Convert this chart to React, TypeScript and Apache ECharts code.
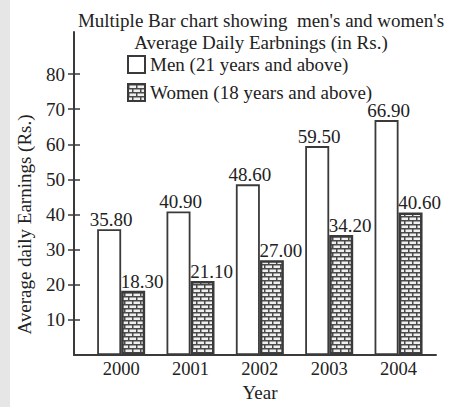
import React, { useEffect, useRef } from "react";
import * as echarts from "echarts";

const categories = ["2000", "2001", "2002", "2003", "2004"];
const menValues = [35.8, 40.9, 48.6, 59.5, 66.9];
const womenValues = [18.3, 21.1, 27.0, 34.2, 40.6];
const yTickValues = [10, 20, 30, 40, 50, 60, 70, 80];
const seriesNames = ["Men (21 years and above)", "Women (18 years and above)"];
const titleLines = ["Multiple Bar chart showing  men's and women's", "Average Daily Earbnings (in Rs.)"];

const FONT = "Liberation Serif";
const INK = "#222";
const LINE = "#3a3a3a";

function makeBrick(): string {
  const c = document.createElement("canvas");
  c.width = 8;
  c.height = 8;
  const ctx = c.getContext("2d")!;
  ctx.fillStyle = "#f0f0f0";
  ctx.fillRect(0, 0, 8, 8);
  ctx.fillStyle = "#4a4a4a";
  ctx.fillRect(0, 0, 8, 1.5);
  ctx.fillRect(0, 4, 8, 1.5);
  ctx.fillRect(0, 0, 1.5, 4);
  ctx.fillRect(4, 4, 1.5, 4);
  return c.toDataURL();
}

export default function App() {
  const ref = useRef<HTMLDivElement>(null);
  useEffect(() => {
    if (!ref.current) return;
    const chart = echarts.init(ref.current, undefined, { renderer: "svg" });
    const brick = { image: makeBrick(), repeat: "repeat", imageWidth: 8, imageHeight: 8 };
    const txt = { fontFamily: FONT, fontSize: 19, color: INK };
    const fmt = (p: any) => Number(p.value[1]).toFixed(2);
    chart.setOption({
      animation: false,
      backgroundColor: "transparent",
      textStyle: { fontFamily: FONT, fontSize: 19, color: INK },
      title: {
        text: titleLines.join("\n"),
        left: 256,
        top: 4,
        textAlign: "center",
        textStyle: { ...txt, fontWeight: "normal", lineHeight: 22 },
      },
      legend: {
        orient: "vertical",
        left: 127,
        top: 55,
        padding: 0,
        itemWidth: 17,
        itemHeight: 17,
        itemGap: 9,
        icon: "rect",
        textStyle: { ...txt },
        data: seriesNames,
      },
      grid: { left: 74, top: 32, right: 13, bottom: 50 },
      xAxis: {
        type: "value",
        min: -0.68,
        max: 4.54,
        name: "Year",
        nameLocation: "middle",
        nameGap: 28,
        nameTextStyle: { ...txt, padding: [0, 0, 0, 10] },
        axisLine: { show: true, onZero: false, lineStyle: { color: LINE, width: 2 } },
        axisTick: { show: false },
        splitLine: { show: false },
        axisLabel: {
          customValues: categories.map((_, i) => i),
          formatter: (v: number) => categories[Math.round(v)] ?? "",
          margin: 4,
          ...txt,
          fontSize: 18.5,
        },
      },
      yAxis: [
        {
          type: "value",
          min: 0,
          max: 92,
          position: "left",
          name: "Average daily Earnings (Rs.)",
          nameLocation: "middle",
          nameGap: 40,
          nameTextStyle: { ...txt, padding: [0, 62, 0, 0] },
          axisLine: { show: true, onZero: false, lineStyle: { color: LINE, width: 2 } },
          axisTick: { show: true, customValues: yTickValues, length: 6, lineStyle: { color: LINE, width: 1.5 } },
          axisLabel: { customValues: yTickValues, margin: 9, ...txt },
          splitLine: { show: false },
        },
        {
          type: "value",
          min: 0,
          max: 92,
          position: "left",
          offset: -6,
          axisLine: { show: false, onZero: false },
          axisTick: { show: true, customValues: yTickValues, length: 6, lineStyle: { color: LINE, width: 1.5 } },
          axisLabel: { show: false },
          splitLine: { show: false },
        },
      ],
      series: [
        {
          name: seriesNames[0],
          type: "bar",
          barWidth: 24,
          barGap: "0%",
          data: menValues.map((v, i) => [i, v]),
          itemStyle: { color: "#ffffff", borderColor: LINE, borderWidth: 1.8 },
          label: { show: true, position: "top", distance: 0, offset: [2, 0], formatter: fmt, ...txt },
        },
        {
          name: seriesNames[1],
          type: "bar",
          barWidth: 24,
          barGap: "0%",
          data: womenValues.map((v, i) => [i, v]),
          itemStyle: { color: brick, borderColor: LINE, borderWidth: 2.5 },
          label: { show: true, position: "top", distance: 0, offset: [9, 0], formatter: fmt, ...txt },
        },
      ],
    });
    return () => chart.dispose();
  }, []);
  return (
    <div style={{ position: "fixed", left: 0, top: 0, width: 449, height: 407, background: "#fff" }}>
      <div style={{ position: "absolute", left: 0, top: 0, width: 10, height: 407, background: "#e6e6e6" }} />
      <div ref={ref} style={{ position: "absolute", left: 0, top: 0, width: 449, height: 407 }} />
    </div>
  );
}
